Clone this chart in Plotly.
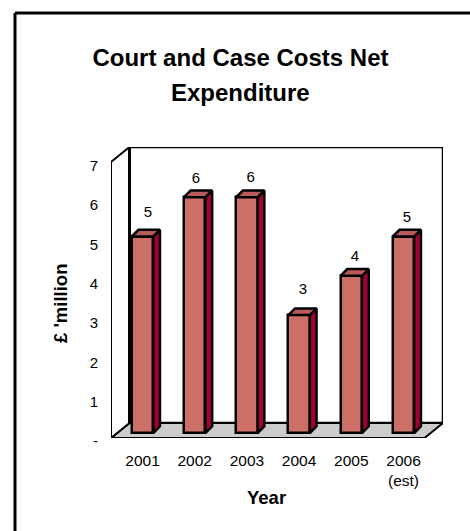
import plotly.graph_objects as go

W, H = 470, 531
years = ["2001", "2002", "2003", "2004", "2005", "2006<br>(est)"]
values = [5, 6, 6, 3, 4, 5]
labels = ["5", "6", "6", "3", "4", "5"]
y_ticks = [0, 1, 2, 3, 4, 5, 6, 7]
y_text = ["-", "1", "2", "3", "4", "5", "6", "7"]
title_1 = "Court and Case Costs Net"
title_2 = "Expenditure"
x_title = "Year"
y_title = "£ 'million"

FRONT = "#CC6F66"
SIDE = "#A50034"
TOP = "#B85A5A"
FLOOR = "#CCCCCC"
FONT = "Liberation Sans, Arial, sans-serif"
INK = "#000000"

# pixel frame of the chart
L, R, T, B = 111, 443, 147, 438
PX_Y = 39.3
PX_X = 52.2
FIRST = 142.5
x_rng = [(L - FIRST) / PX_X, (R - FIRST) / PX_X]
y_rng = [0, (B - T) / PX_Y]
WALL_DX = 18.5 / PX_X
WALL_DY = 15 / PX_Y
BAR_W = 21.5 / PX_X
BAR_BASE = 5 / PX_Y
DX = 6.7 / PX_X
DY = 6.7 / PX_Y
LABEL_DX = [5.5, 1.3, 3.8, 3.9, 3.7, 3.5]
LABEL_DY = [16, 10, 11, 17, 11, 11]

xs = list(range(len(years)))
fig = go.Figure()

fig.add_trace(go.Bar(x=xs, y=values, base=BAR_BASE, width=BAR_W,
                     marker=dict(color=FRONT, line=dict(color=INK, width=2.5)),
                     showlegend=False, hoverinfo="skip"))

for x, v in zip(xs, values):
    x0, x1 = x - BAR_W / 2, x + BAR_W / 2
    y0, y1 = BAR_BASE, BAR_BASE + v
    fig.add_trace(go.Scatter(
        x=[x1, x1 + DX, x1 + DX, x1, x1], y=[y0, y0 + DY, y1 + DY, y1, y0],
        mode="lines", fill="toself", fillcolor=SIDE,
        line=dict(color=INK, width=2.5), showlegend=False, hoverinfo="skip"))
    fig.add_trace(go.Scatter(
        x=[x0, x0 + DX, x1 + DX, x1, x0], y=[y1, y1 + DY, y1 + DY, y1, y1],
        mode="lines", fill="toself", fillcolor=TOP,
        line=dict(color=INK, width=2.5), showlegend=False, hoverinfo="skip"))

fig.add_trace(go.Scatter(
    x=[x + d / PX_X for x, d in zip(xs, LABEL_DX)],
    y=[BAR_BASE + v + d / PX_Y for v, d in zip(values, LABEL_DY)],
    mode="text", text=labels, textposition="top center",
    textfont=dict(family=FONT, size=15, color=INK),
    showlegend=False, hoverinfo="skip"))


def poly(px, py):
    return "M" + " L".join(f"{a},{b}" for a, b in zip(px, py)) + " Z"


xl, xr = x_rng
yt = y_rng[1]
xfr = xr - WALL_DX
shapes = [
    dict(type="path", layer="below", xref="x", yref="y", fillcolor="white",
         path=poly([xl + WALL_DX, xr, xr, xl + WALL_DX], [WALL_DY, WALL_DY, yt, yt]),
         line=dict(color=INK, width=2.5)),
    dict(type="path", layer="below", xref="x", yref="y", fillcolor=FLOOR,
         path=poly([xl, xl + WALL_DX, xr, xfr], [0, WALL_DY, WALL_DY, 0]),
         line=dict(color=INK, width=2)),
    dict(type="path", layer="below", xref="x", yref="y", fillcolor="white",
         path=poly([xl, xl + WALL_DX, xl + WALL_DX, xl], [0, WALL_DY, yt, yt - WALL_DY]),
         line=dict(color=INK, width=2)),
    dict(type="line", layer="below", xref="x", yref="y",
         x0=xl + WALL_DX, x1=xl + WALL_DX, y0=WALL_DY, y1=yt,
         line=dict(color=INK, width=3)),
    dict(type="line", layer="below", xref="paper", yref="paper",
         x0=15 / W, x1=15 / W, y0=0, y1=1 - 13 / H,
         line=dict(color=INK, width=3)),
    dict(type="line", layer="below", xref="paper", yref="paper",
         x0=15 / W, x1=1, y0=1 - 13 / H, y1=1 - 13 / H,
         line=dict(color=INK, width=3)),
]

fig.update_layout(
    width=W, height=H, margin=dict(l=0, r=0, t=0, b=0),
    paper_bgcolor="white", plot_bgcolor="rgba(0,0,0,0)",
    shapes=shapes, bargap=0, showlegend=False,
    font=dict(family=FONT, color=INK),
    title=dict(text=f"<b>{title_1}</b>", x=240.5 / W, xanchor="center", xref="paper",
               y=1 - 58 / H, yanchor="middle", yref="paper",
               font=dict(family=FONT, size=24, color=INK)),
    annotations=[
        dict(text=f"<b>{title_2}</b>", x=240.5 / W, y=1 - 92 / H,
             xref="paper", yref="paper",
             xanchor="center", yanchor="middle", showarrow=False,
             font=dict(family=FONT, size=24, color=INK)),
        dict(text=f"<b>{x_title}</b>", x=266 / W, y=1 - 497 / H,
             xref="paper", yref="paper",
             xanchor="center", yanchor="middle", showarrow=False,
             font=dict(family=FONT, size=18.5, color=INK)),
        dict(text=f"<b>{y_title}</b>", x=60 / W, y=1 - 303 / H,
             xref="paper", yref="paper", textangle=-90,
             xanchor="center", yanchor="middle", showarrow=False,
             font=dict(family=FONT, size=18.5, color=INK)),
    ],
    xaxis=dict(domain=[L / W, R / W], range=x_rng, tickmode="array", tickvals=xs,
               ticktext=years, ticks="outside", ticklen=8, tickcolor="rgba(0,0,0,0)",
               tickfont=dict(family=FONT, size=15.5, color=INK), showgrid=False,
               zeroline=False, showline=False, fixedrange=True, automargin=False),
    yaxis=dict(domain=[1 - B / H, 1 - T / H], range=y_rng, tickmode="array",
               tickvals=y_ticks, ticktext=y_text, ticks="outside", ticklen=9,
               tickcolor="rgba(0,0,0,0)", tickfont=dict(family=FONT, size=15, color=INK),
               ticklabelshift=3,
               showgrid=False, zeroline=False, showline=False, fixedrange=True,
               automargin=False),
)

fig.write_html("out.html", post_script="document.body.style.margin='0';",
               config=dict(displayModeBar=False))
